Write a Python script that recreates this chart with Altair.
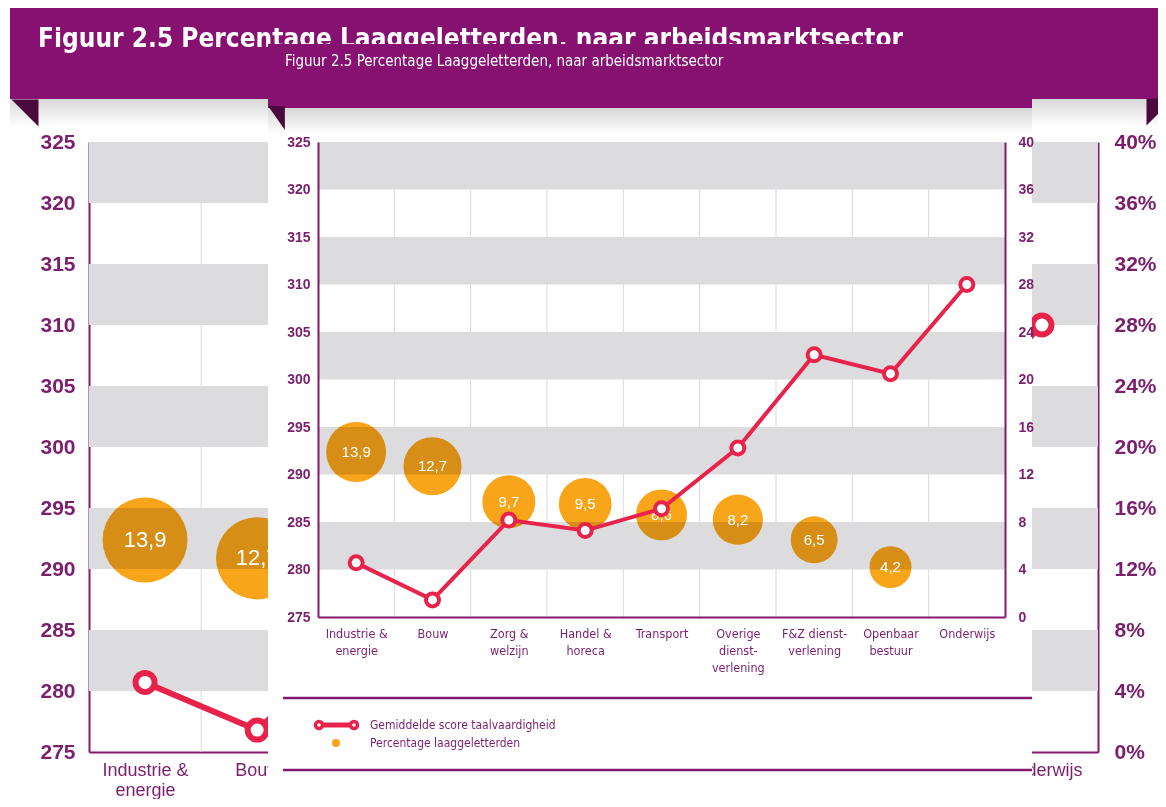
import altair as alt
import pandas as pd

# ---------------- data ----------------
categories = [
    "Industrie &\nenergie", "Bouw", "Zorg &\nwelzijn", "Handel &\nhoreca",
    "Transport", "Overige\ndienst-\nverlening", "F&Z dienst-\nverlening",
    "Openbaar\nbestuur", "Onderwijs",
]
scores = [280.7, 276.8, 285.2, 284.1, 286.4, 292.8, 302.6, 300.6, 310.0]
percentages = [13.9, 12.7, 9.7, 9.5, 8.6, 8.2, 6.5, 4.2, None]
score_ticks = [275, 280, 285, 290, 295, 300, 305, 310, 315, 320, 325]
pct_ticks = [0, 4, 8, 12, 16, 20, 24, 28, 32, 36, 40]
band_lows = [280, 290, 300, 310, 320]
title_text = "Figuur 2.5 Percentage Laaggeletterden, naar arbeidsmarktsector"
legend_labels = ["Gemiddelde score taalvaardigheid", "Percentage laaggeletterden"]

# ---------------- style ----------------
W, H = 1150, 791
PURPLE = "#861170"
FOLD = "#4A0A3E"
AXIS = "#85196F"
LABEL = "#7B1E6E"
GRAY = "#DCDCDE"
GRID = "#DADADA"
RED = "#E8234B"
ORANGE = "#F9A51A"
NARROW = "'Liberation Sans Narrow', 'DejaVu Sans Condensed', 'Liberation Sans', sans-serif"
SANS = "'Liberation Sans', Arial, sans-serif"

df = pd.DataFrame({"cat": categories, "score": scores, "pct": percentages})
df["idx"] = range(len(df))
df["lbl"] = df["pct"].map(lambda v: "" if pd.isna(v) else f"{v:.1f}".replace(".", ","))
df_pct = df.dropna(subset=["pct"]).copy()
bands_df = pd.DataFrame({"lo": band_lows, "hi": [b + 5 for b in band_lows]})
grid_df = pd.DataFrame({"cat": categories[1:], "lo": 275, "hi": 325})
title_df = pd.DataFrame({"t": [title_text]})
one = pd.DataFrame({"a": [0]})
legend_df = pd.DataFrame({"label": legend_labels})

shadow = alt.Gradient(
    gradient="linear",
    stops=[alt.GradientStop(color="#D6D6D6", offset=0), alt.GradientStop(color="#FFFFFF", offset=1)],
    x1=0, x2=0, y1=0, y2=1,
)


def plot_layers(g):
    xp = alt.Scale(type="point", domain=categories, range=[g["x0"], g["x1"]], padding=0.5)
    xb = alt.Scale(type="band", domain=categories, range=[g["x0"], g["x1"]], paddingInner=0, paddingOuter=0)
    ys = alt.Scale(domain=[275, 325], range=[g["yb"], g["yt"]], nice=False, zero=False)
    ps = alt.Scale(domain=[0, 40], range=[g["yb"], g["yt"]], nice=False)
    ss = alt.Scale(domain=[4.2, 13.9], range=g["bubble"], zero=False)

    left_axis = alt.Axis(
        orient="left", offset=-g["x0"], values=score_ticks, ticks=False, grid=False,
        domainColor=AXIS, domainWidth=2, labelColor=LABEL, labelFont=SANS,
        labelFontSize=g["yfs"], labelFontWeight="bold", labelPadding=g["lpad"],
        title=None, zindex=g["z"],
    )
    right_axis = alt.Axis(
        orient="right", offset=-(W - g["x1"]), values=pct_ticks, ticks=False, grid=False,
        domainColor=AXIS, domainWidth=2, labelColor=LABEL, labelFont=SANS,
        labelFontSize=g["yfs"], labelFontWeight="bold", labelPadding=g["rpad"],
        labelExpr=g["pctexpr"], title=None, zindex=g["z"],
    )
    bottom_axis = alt.Axis(
        orient="bottom", offset=-(H - g["yb"]), ticks=False, grid=False,
        domainColor=AXIS, domainWidth=2, labelColor=LABEL, labelFont=g["xfont"],
        labelFontSize=g["xfs"], labelLineHeight=g["xlh"], labelPadding=g["bpad"],
        labelAngle=0, labelAlign="center", labelBaseline="top",
        labelExpr="split(datum.label, '\\n')", title=None, zindex=g["z"],
    )

    grid = alt.Chart(grid_df).mark_rule(color=GRID, strokeWidth=1).encode(
        x=alt.X("cat:N", scale=xb, axis=None, bandPosition=0),
        y=alt.Y("lo:Q", scale=ys, axis=None),
        y2="hi:Q",
    )
    bands = alt.Chart(bands_df).mark_rect(color=GRAY).encode(
        x=alt.value(g["x0"]), x2=alt.value(g["x1"]),
        y=alt.Y("lo:Q", scale=ys, axis=None), y2="hi:Q",
    )
    bubbles = alt.Chart(df_pct).mark_circle(color=ORANGE, opacity=1, blend="multiply").encode(
        x=alt.X("cat:N", scale=xp, axis=None),
        y=alt.Y("pct:Q", scale=ps, axis=right_axis),
        size=alt.Size("pct:Q", scale=ss, legend=None),
    )
    btext = alt.Chart(df_pct).mark_text(
        color="white", font=SANS, fontSize=g["bfs"], baseline="middle", align="center"
    ).encode(
        x=alt.X("cat:N", scale=xp, axis=None),
        y=alt.Y("pct:Q", scale=ps, axis=None),
        text="lbl:N",
    )
    line = alt.Chart(df).mark_line(color=RED, strokeWidth=g["lw"]).encode(
        x=alt.X("cat:N", scale=xp, axis=bottom_axis),
        y=alt.Y("score:Q", scale=ys, axis=left_axis),
        order="idx:Q",
    )
    pts = alt.Chart(df).mark_circle(
        fill="white", stroke=RED, strokeWidth=g["psw"], size=g["psize"], opacity=1
    ).encode(
        x=alt.X("cat:N", scale=xp, axis=None),
        y=alt.Y("score:Q", scale=ys, axis=None),
    )
    return [grid, bands, bubbles, btext, line, pts]


def fold(cx, cy, size, path):
    return alt.Chart(one).mark_point(
        shape=path, filled=True, color=FOLD, size=size, opacity=1, strokeWidth=0
    ).encode(x=alt.value(cx), y=alt.value(cy))


def rect(x0, x1, y0, y1, **kw):
    return alt.Chart(one).mark_rect(**kw).encode(
        x=alt.value(x0), x2=alt.value(x1), y=alt.value(y0), y2=alt.value(y1)
    )


# ---------------- background (enlarged) chart ----------------
BG = dict(x0=81, x1=1090, yb=744, yt=134, bubble=[3600, 7225], yfs=21, lpad=14, rpad=16,
          pctexpr="datum.value + '%'", xfont=SANS, xfs=18, xlh=20, bpad=9, bfs=22,
          lw=6, psw=6, psize=361, z=0)
bg_band = rect(2, W, 0, 91, color=PURPLE)
bg_shadow = rect(2, W, 91, 118, fill=shadow)
bg_title = alt.Chart(title_df).mark_text(
    align="left", baseline="alphabetic", font=NARROW, fontSize=26, fontWeight="bold", color="white"
).encode(x=alt.value(30), y=alt.value(39), text="t:N")
bg_fold_l = fold(17, 105, 729, "M-1,-1L1,-1L1,1Z")
bg_fold_r = fold(1152, 104, 729, "M-1,-1L1,-1L-1,1Z")

# ---------------- foreground chart ----------------
FG = dict(x0=310, x1=997, yb=609, yt=134, bubble=[1764, 3600], yfs=14, lpad=8, rpad=13,
          pctexpr="datum.value + ''", xfont=NARROW, xfs=12.5, xlh=17, bpad=10, bfs=15,
          lw=4, psw=4, psize=169, z=1)
fg_panel = rect(260, 1024, 36, H, color="white")
fg_header = rect(260, 1024, 36, 100, color=PURPLE)
fg_shadow = rect(260, 1024, 100, 126, fill=shadow)
fg_fold = fold(268.5, 110, 576, "M-0.7,-1L0.7,-1L0.7,1Z")
fg_title = alt.Chart(title_df).mark_text(
    align="left", baseline="alphabetic", font=NARROW, fontSize=15, color="white"
).encode(x=alt.value(277), y=alt.value(58), text="t:N")

# legend
leg_rule_top = alt.Chart(one).mark_rule(color=AXIS, strokeWidth=2.5).encode(
    x=alt.value(275), x2=alt.value(1024), y=alt.value(690))
leg_rule_bot = alt.Chart(one).mark_rule(color=AXIS, strokeWidth=2.5).encode(
    x=alt.value(275), x2=alt.value(1024), y=alt.value(762))
leg_line = alt.Chart(one).mark_rule(color=RED, strokeWidth=5).encode(
    x=alt.value(310), x2=alt.value(347), y=alt.value(717))
leg_ring_a = alt.Chart(one).mark_circle(fill="white", stroke=RED, strokeWidth=3.5, size=49, opacity=1).encode(
    x=alt.value(311), y=alt.value(717))
leg_ring_b = alt.Chart(one).mark_circle(fill="white", stroke=RED, strokeWidth=3.5, size=49, opacity=1).encode(
    x=alt.value(346), y=alt.value(717))
leg_dot = alt.Chart(one).mark_circle(color=ORANGE, size=64, opacity=1).encode(
    x=alt.value(328), y=alt.value(735))
leg_text = alt.Chart(legend_df).mark_text(
    align="left", baseline="middle", font=NARROW, fontSize=12, color=LABEL
).encode(
    x=alt.value(362),
    y=alt.Y("label:N", scale=alt.Scale(type="point", domain=legend_labels, range=[717, 735], padding=0), axis=None),
    text="label:N",
)

layers = (
    [bg_band, bg_shadow, bg_fold_l, bg_fold_r, bg_title]
    + plot_layers(BG)
    + [fg_panel, fg_header, fg_shadow, fg_fold, fg_title]
    + plot_layers(FG)
    + [leg_rule_top, leg_rule_bot, leg_line, leg_ring_a, leg_ring_b, leg_dot, leg_text]
)

chart = (
    alt.layer(*layers)
    .resolve_scale(x="independent", y="independent", size="independent")
    .properties(width=W, height=H, autosize=alt.AutoSizeParams(type="none"), padding=0,
                background="white")
    .configure_view(stroke=None)
)

chart.save("out.html", embed_options={"renderer": "svg", "actions": False})
